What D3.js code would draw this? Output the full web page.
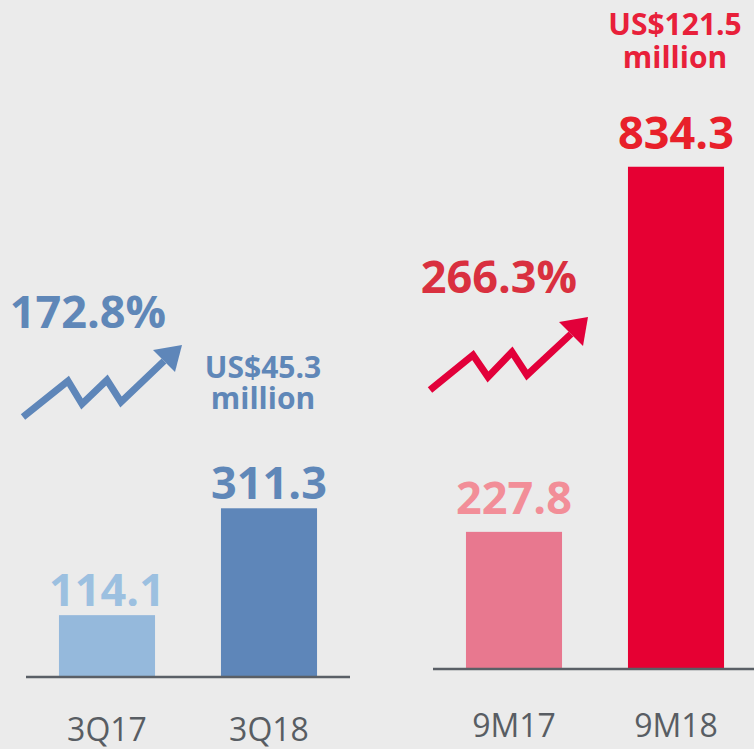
<!DOCTYPE html>
<html>
<head>
<meta charset="utf-8">
<script src="https://cdn.jsdelivr.net/npm/d3@7"></script>
<style>
  html, body { margin: 0; padding: 0; background: #ebebeb; overflow: hidden; }
  svg { display: block; font-family: "Open Sans", "Noto Sans", sans-serif; }
</style>
</head>
<body>
<script>
//chart data
var quarterCats = ["3Q17", "3Q18"],
    quarterVals = [114.1, 311.3],
    quarterColors = ["#95b9dc", "#5e86b9"],
    quarterLabelColors = ["#9cc0e0", "#5f87b8"];

var periodCats = ["9M17", "9M18"],
    periodVals = [227.8, 834.3],
    periodColors = ["#e8788f", "#e60033"],
    periodLabelColors = ["#f28e98", "#e8202a"];

var growthLabels = ["172.8%", "266.3%"],
    usdLabels = [["US$45.3", "million"], ["US$121.5", "million"]];

window.onload = drawChart();

function drawChart(){

    var width = 754,
        height = 749;

    var svg = d3.select("body")
        .append("svg")
        .attr("width", width)
        .attr("height", height);

    svg.append("rect")
        .attr("width", width)
        .attr("height", height)
        .attr("fill", "#ebebeb");

    //one panel per comparison
    var panels = [
        {cats: quarterCats, vals: quarterVals, colors: quarterColors, labelColors: quarterLabelColors,
         x0: 26, x1: 350, axisEnd: 350, base: 677, pxPerThousand: 542, labelGap: 9, catY: 741},
        {cats: periodCats, vals: periodVals, colors: periodColors, labelColors: periodLabelColors,
         x0: 433, x1: 757, axisEnd: 754, base: 669, pxPerThousand: 602, labelGap: 18, catY: 737}
    ];

    panels.forEach(function(p){
        var x = d3.scaleBand()
            .domain(p.cats)
            .range([p.x0, p.x1])
            .paddingInner(0.407)
            .paddingOuter(0.2035);

        var y = d3.scaleLinear()
            .domain([0, 1000])
            .range([p.base, p.base - p.pxPerThousand]);

        var g = svg.append("g");

        //bars
        g.selectAll(".bar")
            .data(p.vals)
            .enter()
            .append("rect")
            .attr("class", "bar")
            .attr("x", function(d, i){ return x(p.cats[i]); })
            .attr("y", function(d){ return y(d); })
            .attr("width", x.bandwidth())
            .attr("height", function(d){ return y(0) - y(d); })
            .attr("fill", function(d, i){ return p.colors[i]; });

        //value labels
        g.selectAll(".val")
            .data(p.vals)
            .enter()
            .append("text")
            .attr("class", "val")
            .attr("x", function(d, i){ return x(p.cats[i]) + x.bandwidth() / 2; })
            .attr("y", function(d){ return y(d) - p.labelGap; })
            .attr("text-anchor", "middle")
            .attr("font-size", 45)
            .attr("font-weight", 700)
            .attr("fill", function(d, i){ return p.labelColors[i]; })
            .text(function(d){ return d3.format(".1f")(d); });

        //baseline
        g.append("line")
            .attr("x1", p.x0)
            .attr("x2", p.axisEnd)
            .attr("y1", y(0))
            .attr("y2", y(0))
            .attr("stroke", "#5a5f66")
            .attr("stroke-width", 2.5);

        //category labels
        g.selectAll(".cat")
            .data(p.cats)
            .enter()
            .append("text")
            .attr("class", "cat")
            .attr("x", function(d){ return x(d) + x.bandwidth() / 2; })
            .attr("y", p.catY)
            .attr("text-anchor", "middle")
            .attr("font-size", 32)
            .attr("fill", "#585d63")
            .text(function(d){ return d; });
    });

    //growth arrows (decoration)
    var arrows = [
        {pts: [[23, 417], [68, 381], [82, 404], [107, 380], [121, 402], [164, 361]],
         head: [[182, 345], [153, 350], [175, 372]], color: "#5e86b9"},
        {pts: [[430, 390], [473, 355], [488, 377], [512, 352], [527, 375], [571, 334]],
         head: [[588, 317], [559, 322], [583, 346]], color: "#e2003a"}
    ];

    var line = d3.line();

    arrows.forEach(function(a){
        svg.append("path")
            .attr("d", line(a.pts))
            .attr("fill", "none")
            .attr("stroke", a.color)
            .attr("stroke-width", 7)
            .attr("stroke-linejoin", "miter");
        svg.append("path")
            .attr("d", line(a.head) + "Z")
            .attr("fill", a.color);
    });

    //growth percentages
    var pctPos = [[88, 328, "#5f87b8"], [499, 293, "#d9303f"]];
    growthLabels.forEach(function(t, i){
        svg.append("text")
            .attr("x", pctPos[i][0])
            .attr("y", pctPos[i][1])
            .attr("text-anchor", "middle")
            .attr("font-size", 45)
            .attr("font-weight", 700)
            .attr("fill", pctPos[i][2])
            .text(t);
    });

    //USD amounts
    var usdPos = [[263, 378, 31, 30, "#5f87b8"], [675, 35, 33, 30, "#e8203a"]];
    usdLabels.forEach(function(lines, i){
        var pos = usdPos[i];
        lines.forEach(function(t, j){
            svg.append("text")
                .attr("x", pos[0])
                .attr("y", pos[1] + j * pos[2])
                .attr("text-anchor", "middle")
                .attr("font-size", pos[3])
                .attr("font-weight", 700)
                .attr("fill", pos[4])
                .text(t);
        });
    });
}
</script>
</body>
</html>
